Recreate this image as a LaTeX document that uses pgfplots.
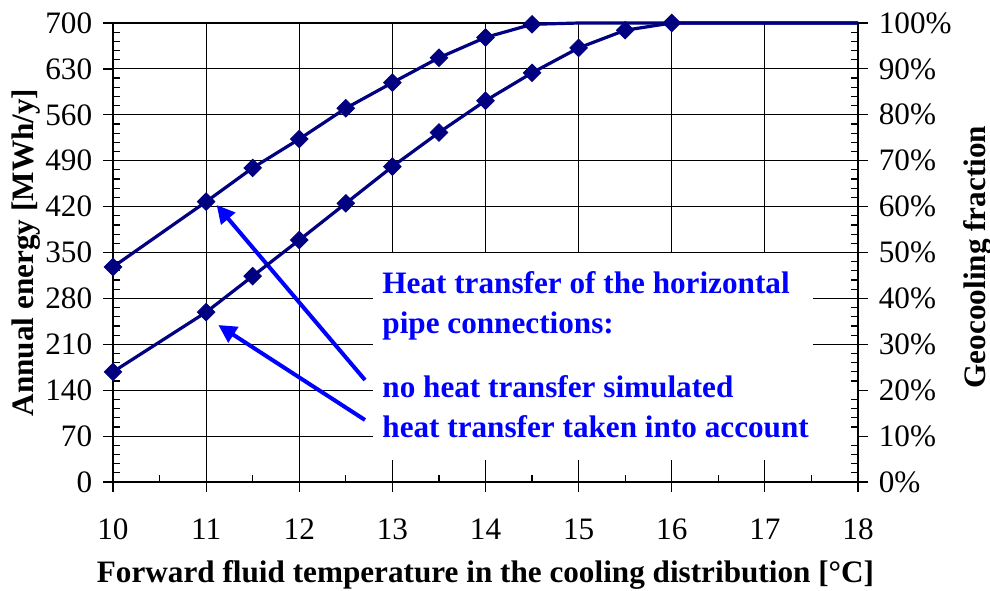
\documentclass[border=0pt]{standalone}
\usepackage{fontspec}
\setmainfont{Liberation Serif}
\usepackage{pgfplots}
\pgfplotsset{compat=1.18}
\usetikzlibrary{arrows.meta}
\definecolor{navy}{RGB}{0,0,128}
\definecolor{annblue}{RGB}{0,0,255}
\pgfplotstableread{
x y
10 328
11 427.5
11.5 479
12 523
12.5 570
13 609
13.5 647
14 678
14.5 698
15 700
16 700
17 700
18 700
}\noheat
\pgfplotstableread{
x y
10 168
11 259
11.5 314
12 369
12.5 425
13 481
13.5 533
14 581.5
14.5 624
15 662
15.5 689
16 700
17 700
18 700
}\withheat
\newcommand{\fs}{\fontsize{15.6}{18.5}\selectfont}
\begin{document}
\fs
\begin{tikzpicture}
\pgfplotsset{
 common/.style={
  scale only axis, width=372.5pt, height=229.5pt,
  xmin=10, xmax=18, clip=false,
  tick align=outside, major tick length=5pt, minor tick length=-3.5pt,
  tick style={black, line width=0.6pt},
  /pgf/number format/assume math mode=true,
  tick label style={font=\fs},
  label style={font=\fs\bfseries},
 }
}
\begin{axis}[common,
  axis x line*=bottom, axis y line*=left,
  ymin=0, ymax=700, ytick={0,70,...,700}, minor y tick num=4,
  xtick={10,...,18}, minor x tick num=1,
  grid=major, major grid style={black, line width=0.55pt},
  axis line style={black, line width=1pt},
  xlabel={Forward fluid temperature in the cooling distribution [°C]},
  ylabel={Annual energy [MWh/y]},
  xlabel style={at={(axis description cs:0.5,-0.22)}, anchor=base},
  ylabel style={at={(axis description cs:-0.107,0.5)}, anchor=base},
  xticklabel style={yshift=-8pt},
]
\fill[white] (axis cs:12.792,174) rectangle (axis cs:17.517,349.2);
\fill[white] (axis cs:12.792,33.6) rectangle (axis cs:18,175);
\draw[annblue, line width=2pt, -{Triangle[length=9pt,width=9pt]}] (axis cs:12.706,155.6) -- (axis cs:11.113,422.4);
\draw[annblue, line width=2pt, -{Triangle[length=9pt,width=9pt]}] (axis cs:12.706,94.6) -- (axis cs:11.131,239.4);
\node[anchor=base west, annblue, font=\fs\bfseries, inner sep=0pt] at (axis cs:12.889,288.2) {Heat transfer of the horizontal};
\node[anchor=base west, annblue, font=\fs\bfseries, inner sep=0pt] at (axis cs:12.889,227.2) {pipe connections:};
\node[anchor=base west, annblue, font=\fs\bfseries, inner sep=0pt] at (axis cs:12.889,129.6) {no heat transfer simulated};
\node[anchor=base west, annblue, font=\fs\bfseries, inner sep=0pt] at (axis cs:12.889,68.6) {heat transfer taken into account};
\addplot[navy, line width=1.6pt] table[x=x,y=y] {\noheat};
\addplot[navy, line width=1.6pt] table[x=x,y=y] {\withheat};
\addplot[only marks, mark=square*, mark size=3.1pt, mark options={rotate=45, fill=navy, draw=navy}, restrict x to domain=10:14.6] table[x=x,y=y] {\noheat};
\addplot[only marks, mark=square*, mark size=3.1pt, mark options={rotate=45, fill=navy, draw=navy}, restrict x to domain=10:16.1] table[x=x,y=y] {\withheat};
\end{axis}
\begin{axis}[common,
  axis x line=none, axis y line*=right,
  ymin=0, ymax=100, ytick={0,10,...,100},
  yticklabels={0\%,10\%,20\%,30\%,40\%,50\%,60\%,70\%,80\%,90\%,100\%},
  minor y tick num=4,
  axis line style={black, line width=1pt},
  ylabel={Geocooling fraction},
  ylabel style={at={(axis description cs:1.1705,0.49)}, anchor=base},
]
\end{axis}
\pgfresetboundingbox
\useasboundingbox (-56.5pt,-54pt) rectangle (438.5pt,241pt);
\end{tikzpicture}
\end{document}
